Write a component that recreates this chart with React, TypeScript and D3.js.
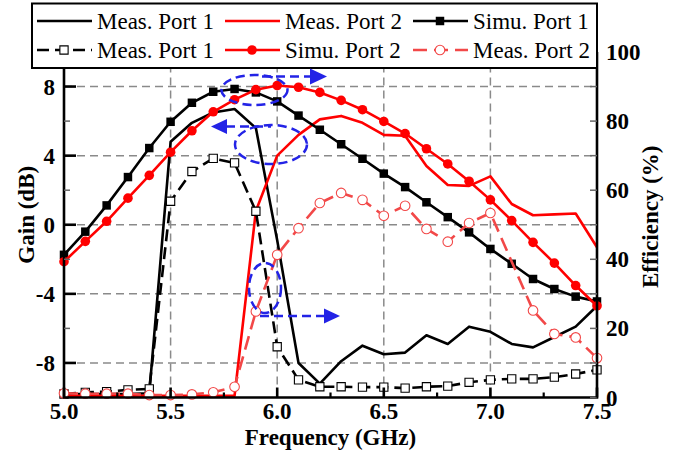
import React, { useEffect, useRef } from 'react';
import * as d3 from 'd3';

// frequency points (GHz)
const freq = [5.0, 5.1, 5.2, 5.3, 5.4, 5.5, 5.6, 5.7, 5.8, 5.9, 6.0, 6.1, 6.2, 6.3, 6.4, 6.5, 6.6, 6.7, 6.8, 6.9, 7.0, 7.1, 7.2, 7.3, 7.4, 7.5];

// gain (dB), left axis
const gainMeasPort1 = [-9.8, -9.8, -9.8, -9.8, -9.75, 4.8, 5.9, 6.5, 6.7, 5.6, -0.9, -8.0, -9.2, -7.9, -7.0, -7.5, -7.4, -6.4, -6.9, -5.9, -6.2, -6.9, -7.1, -6.5, -5.9, -4.7];
const gainMeasPort2 = [-9.9, -9.9, -9.9, -9.9, -9.9, -9.9, -9.9, -9.9, -9.9, 0.8, 4.0, 5.2, 6.1, 6.3, 5.9, 5.2, 5.15, 3.4, 2.3, 2.25, 2.8, 1.2, 0.55, 0.6, 0.65, -1.3];

// efficiency (%), right axis
const effSimuPort1 = [41.3, 48.0, 55.6, 63.8, 72.2, 79.8, 85.3, 88.5, 89.3, 88.3, 85.7, 81.6, 77.5, 73.3, 69.1, 64.8, 60.9, 56.5, 52.2, 47.8, 43.0, 38.7, 34.3, 31.4, 29.2, 27.8];
const effSimuPort2 = [39.3, 45.2, 51.0, 57.7, 64.3, 71.0, 77.2, 82.7, 86.2, 89.1, 90.3, 89.8, 88.3, 86.0, 83.3, 79.9, 76.4, 72.0, 67.6, 62.6, 57.2, 51.2, 44.9, 38.9, 32.4, 26.5];
const effMeasPort1 = [1.0, 1.5, 1.7, 2.2, 2.5, 56.8, 65.4, 69.2, 67.9, 53.9, 14.7, 5.1, 3.1, 3.1, 3.0, 3.0, 2.7, 3.1, 3.3, 4.4, 5.1, 5.4, 5.4, 5.9, 6.8, 8.0];
const effMeasPort2 = [1.2, 1.1, 1.1, 1.1, 0.7, 0.7, 0.9, 1.5, 3.1, 24.9, 41.3, 49.0, 56.3, 59.2, 57.2, 52.6, 55.5, 48.8, 45.1, 50.5, 53.4, null, 25.2, 18.4, 17.4, 11.4];

const freqTicks = [5.0, 5.5, 6.0, 6.5, 7.0, 7.5];
const freqMinor = [5.25, 5.75, 6.25, 6.75, 7.25];
const gainTicks = [-8, -4, 0, 4, 8];
const gainMinor = [-6, -2, 2, 6];
const effTicks = [0, 20, 40, 60, 80, 100];
const effMinor = [10, 30, 50, 70, 90];

const W = 674, H = 452;
const L = 64, R = 597, T = 52, B = 397.5;
const RED = '#ff0000';
const RED2 = '#f24848';
const BLUE = '#2323e6';
const FONT = '"Liberation Serif", "Times New Roman", Times, serif';

export default function App() {
  const ref = useRef<SVGSVGElement>(null);

  useEffect(() => {
    const svg = d3.select(ref.current);
    svg.selectAll('*').remove();

    const x = d3.scaleLinear().domain([5, 7.5]).range([L, R]);
    const yG = d3.scaleLinear().domain([-10, 10]).range([B, T]);
    const yE = d3.scaleLinear().domain([0, 100]).range([B, T]);

    // dashed grid
    const grid = svg.append('g').attr('stroke', '#8a8a8a').attr('stroke-width', 1.5).attr('stroke-dasharray', '8,5');
    gainTicks.forEach(t => grid.append('line').attr('x1', L).attr('x2', R).attr('y1', yG(t)).attr('y2', yG(t)));
    freqTicks.slice(1, -1).forEach(t => grid.append('line').attr('x1', x(t)).attr('x2', x(t)).attr('y1', B).attr('y2', T));

    const series = [
      { ys: gainMeasPort1, sc: yG, color: '#000', dash: null, marker: null },
      { ys: gainMeasPort2, sc: yG, color: RED, dash: null, marker: null },
      { ys: effSimuPort1, sc: yE, color: '#000', dash: null, marker: 'sqFill' },
      { ys: effMeasPort1, sc: yE, color: '#000', dash: '12,6', marker: 'sqOpen' },
      { ys: effSimuPort2, sc: yE, color: RED, dash: null, marker: 'cFill' },
      { ys: effMeasPort2, sc: yE, color: RED2, dash: '14,7', marker: 'cOpen' },
    ];

    const drawMarker = (g: any, kind: string, color: string, cx: number, cy: number) => {
      if (kind === 'sqFill') {
        g.append('path').attr('d', d3.symbol(d3.symbolSquare, 72)()).attr('transform', `translate(${cx},${cy})`).attr('fill', color);
      } else if (kind === 'sqOpen') {
        g.append('path').attr('d', d3.symbol(d3.symbolSquare, 68)()).attr('transform', `translate(${cx},${cy})`)
          .attr('fill', '#fff').attr('stroke', '#000').attr('stroke-width', 1.1);
      } else if (kind === 'cFill') {
        g.append('circle').attr('cx', cx).attr('cy', cy).attr('r', 4.8).attr('fill', color);
      } else if (kind === 'cOpen') {
        g.append('circle').attr('cx', cx).attr('cy', cy).attr('r', 4.8).attr('fill', '#fff').attr('stroke', color).attr('stroke-width', 1.1);
      }
    };

    const plot = svg.append('g');
    series.forEach(s => {
      const pts = freq.map((f, i) => [f, s.ys[i]] as [number, number | null])
        .filter(p => p[1] !== null) as [number, number][];
      const line = d3.line<[number, number]>().x(d => x(d[0])).y(d => s.sc(d[1]));
      plot.append('path').attr('d', line(pts)).attr('fill', 'none').attr('stroke', s.color)
        .attr('stroke-width', 2.6).attr('stroke-linejoin', 'round')
        .attr('stroke-dasharray', s.dash);
      if (s.marker) pts.forEach(p => drawMarker(plot, s.marker as string, s.color, x(p[0]), s.sc(p[1])));
    });

    // frame and ticks
    const ax = svg.append('g').attr('stroke', '#000');
    ax.append('path').attr('d', `M${L},${T}V${B}H${R}V${T}`).attr('fill', 'none').attr('stroke-width', 2.6);
    gainTicks.forEach(t => ax.append('line').attr('x1', L).attr('x2', L + 12).attr('y1', yG(t)).attr('y2', yG(t)).attr('stroke-width', 2.6));
    gainMinor.forEach(t => ax.append('line').attr('x1', L).attr('x2', L + 6).attr('y1', yG(t)).attr('y2', yG(t)).attr('stroke-width', 1.5).attr('stroke', '#666'));
    [...effTicks, ...effMinor].forEach(t => ax.append('line').attr('x1', R - 7).attr('x2', R).attr('y1', yE(t)).attr('y2', yE(t)).attr('stroke-width', 1.5).attr('stroke', '#666'));
    freqTicks.forEach(t => ax.append('line').attr('x1', x(t)).attr('x2', x(t)).attr('y1', B).attr('y2', B - 10).attr('stroke-width', 2.6));
    freqMinor.forEach(t => ax.append('line').attr('x1', x(t)).attr('x2', x(t)).attr('y1', B).attr('y2', B - 5).attr('stroke-width', 2.2));

    const txt = svg.append('g').attr('font-family', FONT).attr('font-weight', 'bold').attr('font-size', 23).attr('fill', '#000');
    gainTicks.forEach(t => txt.append('text').attr('x', L - 9).attr('y', yG(t) + 8).attr('text-anchor', 'end').text(t === 0 ? '0' : String(t).replace('−', '-')));
    effTicks.forEach(t => txt.append('text').attr('x', R + 9).attr('y', yE(t) + 8).text(t));
    freqTicks.forEach(t => txt.append('text').attr('x', x(t)).attr('y', 419).attr('text-anchor', 'middle').text(t.toFixed(1)));
    txt.append('text').attr('x', (L + R) / 2).attr('y', 445).attr('text-anchor', 'middle').text('Frequency (GHz)');
    txt.append('text').attr('transform', `translate(34,${(T + B) / 2 - 10}) rotate(-90)`).attr('text-anchor', 'middle').text('Gain (dB)');
    txt.append('text').attr('transform', `translate(658,${(T + B) / 2 - 8}) rotate(-90)`).attr('text-anchor', 'middle').text('Efficiency (%)');

    // legend
    const lg = svg.append('g');
    lg.append('rect').attr('x', 32).attr('y', 3.5).attr('width', R - 32).attr('height', 64.5).attr('fill', '#fff').attr('stroke', '#000').attr('stroke-width', 2);
    const legendItems = [
      { label: 'Meas. Port 1', color: '#000', dash: null, marker: null },
      { label: 'Meas. Port 2', color: RED, dash: null, marker: null },
      { label: 'Simu. Port 1', color: '#000', dash: null, marker: 'sqFill' },
      { label: 'Meas. Port 1', color: '#000', dash: '12,6', marker: 'sqOpen' },
      { label: 'Simu. Port 2', color: RED, dash: null, marker: 'cFill' },
      { label: 'Meas. Port 2', color: RED2, dash: '14,7', marker: 'cOpen' },
    ];
    const colX = [37, 225, 413];
    const rowY = [21, 50];
    legendItems.forEach((it, i) => {
      const x0 = colX[i % 3], yy = rowY[Math.floor(i / 3)];
      lg.append('line').attr('x1', x0).attr('x2', x0 + 55).attr('y1', yy).attr('y2', yy)
        .attr('stroke', it.color).attr('stroke-width', 2.6).attr('stroke-dasharray', it.dash);
      if (it.marker) drawMarker(lg, it.marker, it.color, x0 + 27, yy);
      lg.append('text').attr('x', x0 + 60).attr('y', yy + 7.5).attr('font-family', FONT).attr('font-size', 23).text(it.label);
    });

    // annotations
    const an = svg.append('g').attr('stroke', BLUE).attr('stroke-width', 2.5).attr('fill', 'none').attr('stroke-dasharray', '9,5');
    an.append('ellipse').attr('cx', 254.5).attr('cy', 90).attr('rx', 33).attr('ry', 15);
    an.append('ellipse').attr('cx', 271).attr('cy', 144.5).attr('rx', 36).attr('ry', 19.5);
    an.append('ellipse').attr('cx', 265).attr('cy', 288).attr('rx', 16).attr('ry', 25);
    an.append('line').attr('x1', 262).attr('x2', 312).attr('y1', 76.5).attr('y2', 76.5);
    an.append('line').attr('x1', 226).attr('x2', 271).attr('y1', 126.5).attr('y2', 126.5);
    an.append('line').attr('x1', 260).attr('x2', 326).attr('y1', 316).attr('y2', 316);
    const heads = svg.append('g').attr('fill', BLUE);
    heads.append('path').attr('d', 'M327,76.5L310,68.5L310,84.5Z');
    heads.append('path').attr('d', 'M211,126.5L227,119L227,134Z');
    heads.append('path').attr('d', 'M340,316L324,308.5L324,323.5Z');
  }, []);

  return <svg ref={ref} width={W} height={H} style={{ position: 'absolute', left: 0, top: 0, background: '#fff' }} />;
}
